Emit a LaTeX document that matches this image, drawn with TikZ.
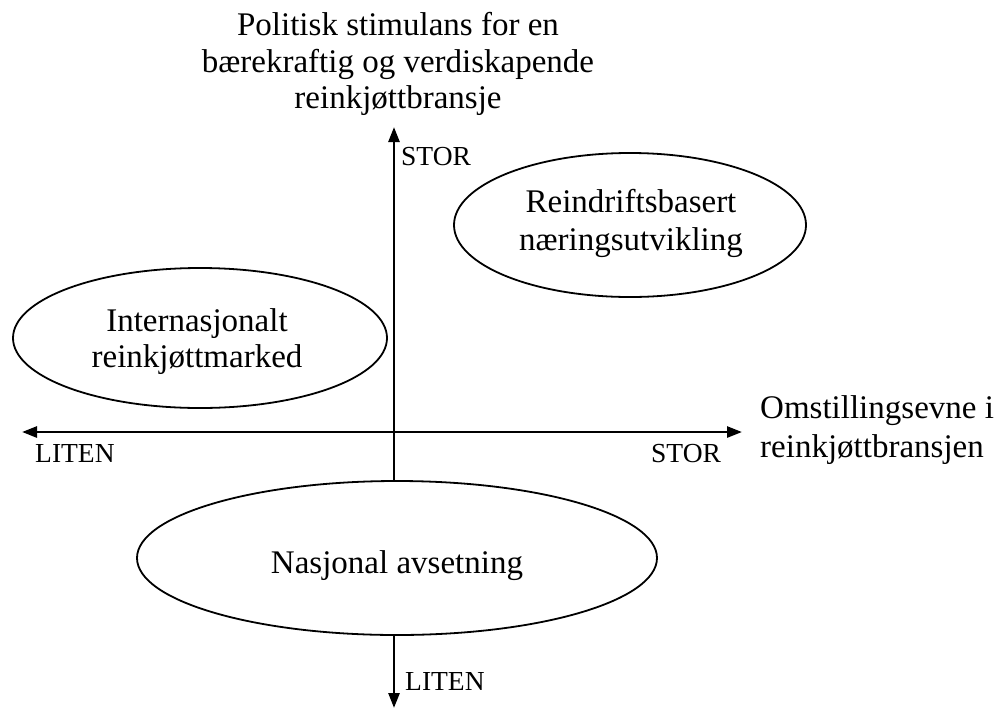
\documentclass[tikz,border=0pt]{standalone}
\usepackage{fontspec}
\setmainfont{Liberation Serif}
\usetikzlibrary{arrows.meta,shapes.geometric}
\tikzset{
  axisline/.style={line width=2.6pt, {Triangle[length=15pt,width=11pt]}-{Triangle[length=15pt,width=11pt]}},
  ell/.style={draw, ellipse, line width=1.8pt, fill=white, inner sep=0pt},
  bigtxt/.style={font=\fontsize{33}{38}\selectfont, align=center, inner sep=0pt},
  smalltxt/.style={font=\fontsize{27.5}{32}\selectfont, inner sep=0pt},
}
\begin{document}
\begin{tikzpicture}[x=1pt,y=-1pt]
\useasboundingbox (0,0) rectangle (1004,710);
% axes
\coordinate (xl) at (22,432);
\coordinate (xr) at (742,432);
\coordinate (yt) at (394,127);
\coordinate (yb) at (394,708);
\draw[axisline] (xl) -- (xr);
\draw[axisline] (yb) -- (yt);
% title
\node[bigtxt, font=\fontsize{33}{36.5}\selectfont, anchor=north] (title) at (398,12.5) {Politisk stimulans for en\\bærekraftig og verdiskapende\\reinkjøttbransje};
% right axis title
\node[bigtxt, font=\fontsize{33}{39}\selectfont, align=left, anchor=north west] (xtitle) at (760,395.5) {Omstillingsevne i\\reinkjøttbransjen};
% axis end labels
\node[smalltxt, anchor=base west] (ystor) at (401,165) {STOR};
\node[smalltxt, anchor=base west] (yliten) at (405,690) {LITEN};
\node[smalltxt, anchor=base west] (xliten) at (35,462) {LITEN};
\node[smalltxt, anchor=base west] (xstor) at (651,462) {STOR};
% ellipses
\node[ell, minimum width=352pt, minimum height=144pt] (reind) at (630,225) {};
\node[bigtxt] (reindt) at (631,223) {Reindriftsbasert\\næringsutvikling};
\node[ell, minimum width=374pt, minimum height=140pt] (inter) at (200,338) {};
\node[bigtxt, font=\fontsize{33}{36}\selectfont] (intert) at (197,342) {Internasjonalt\\reinkjøttmarked};
\node[ell, minimum width=520pt, minimum height=154pt] (nasj) at (397,558) {};
\node[bigtxt] (nasjt) at (397,566) {Nasjonal avsetning};
\end{tikzpicture}
\end{document}
